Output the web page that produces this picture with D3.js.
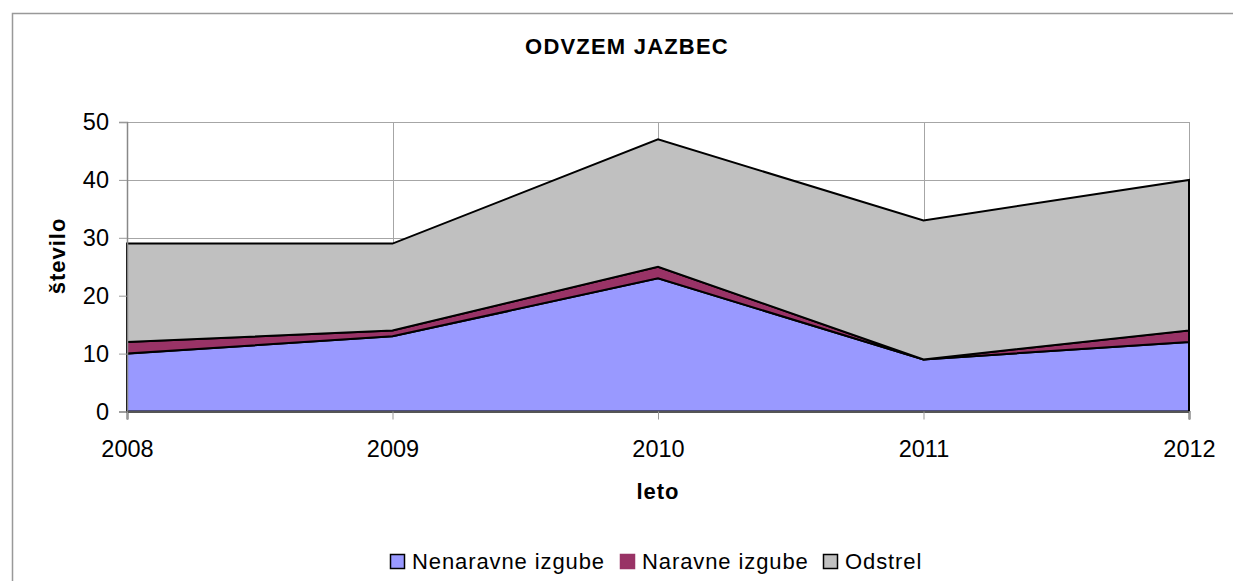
<!DOCTYPE html>
<html>
<head>
<meta charset="utf-8">
<script src="https://cdn.jsdelivr.net/npm/d3@7"></script>
<style>
  body { margin: 0; background: #fff; }
  text { font-family: "Liberation Sans", Arial, sans-serif; fill: #000; }
</style>
</head>
<body>
<svg id="chart" width="1233" height="581"></svg>
<script>
const years = ["2008", "2009", "2010", "2011", "2012"];
const nenaravne = [10, 13, 23, 9, 12];
const naravne = [2, 1, 2, 0, 2];
const odstrel = [17, 15, 22, 24, 26];
const seriesNames = ["Nenaravne izgube", "Naravne izgube", "Odstrel"];
const colors = ["#9999FF", "#993366", "#C0C0C0"];
const yTicks = [0, 10, 20, 30, 40, 50];

const svg = d3.select("#chart");
const margin = { left: 127, right: 1189, top: 122, bottom: 411.5 };

// outer chart border
svg.append("rect")
    .attr("x", 12.5).attr("y", 13.5)
    .attr("width", 1240).attr("height", 600)
    .attr("fill", "none").attr("stroke", "#999").attr("stroke-width", 1.5);

const x = d3.scalePoint().domain(years).range([margin.left, margin.right]);
const y = d3.scaleLinear().domain([0, 50]).range([margin.bottom, margin.top]);

// gridlines
svg.append("g").selectAll("line").data(yTicks).join("line")
    .attr("x1", margin.left).attr("x2", margin.right)
    .attr("y1", d => Math.round(y(d)) + 0.5).attr("y2", d => Math.round(y(d)) + 0.5)
    .attr("stroke", "#a6a6a6");
svg.append("g").selectAll("line").data(years).join("line")
    .attr("x1", d => Math.round(x(d)) + 0.5).attr("x2", d => Math.round(x(d)) + 0.5)
    .attr("y1", margin.top).attr("y2", margin.bottom)
    .attr("stroke", "#a6a6a6");

// stacked areas
const table = years.map((yr, i) => ({ year: yr, a: nenaravne[i], b: naravne[i], c: odstrel[i] }));
const stack = d3.stack().keys(["a", "b", "c"]);
const layers = stack(table);

const area = d3.area()
    .x(d => x(d.data.year))
    .y0(d => y(d[0]))
    .y1(d => y(d[1]));

svg.append("g").selectAll("path").data(layers).join("path")
    .attr("d", area)
    .attr("fill", (d, i) => colors[i])
    .attr("stroke", "#000")
    .attr("stroke-width", 2)
    .attr("stroke-linejoin", "miter");

// axes
const yAxis = svg.append("g")
    .attr("transform", `translate(${margin.left},0)`)
    .call(d3.axisLeft(y).tickValues(yTicks).tickSize(8).tickPadding(10));
yAxis.select(".domain").attr("stroke", "#888").attr("stroke-width", 1.5);
yAxis.selectAll(".tick line").attr("stroke", "#999");
yAxis.selectAll("text").style("font-size", "23.5px");

const xAxis = svg.append("g")
    .attr("transform", `translate(0,${margin.bottom})`)
    .call(d3.axisBottom(x).tickSize(8).tickPadding(21));
xAxis.select(".domain").attr("stroke", "#555").attr("stroke-width", 2);
xAxis.selectAll(".tick line").attr("stroke", "#999");
xAxis.selectAll("text").style("font-size", "23.5px");

// title and axis titles
svg.append("text")
    .attr("x", 627).attr("y", 54)
    .attr("text-anchor", "middle")
    .style("font-size", "22px").style("font-weight", "bold").style("letter-spacing", "1.2px")
    .text("ODVZEM JAZBEC");

svg.append("text")
    .attr("x", (margin.left + margin.right) / 2).attr("y", 499)
    .attr("text-anchor", "middle")
    .style("font-size", "22px").style("font-weight", "bold").style("letter-spacing", "1px")
    .text("leto");

svg.append("text")
    .attr("transform", "translate(65,256) rotate(-90)")
    .attr("text-anchor", "middle")
    .style("font-size", "22px").style("font-weight", "bold").style("letter-spacing", "1px")
    .text("število");

// legend
const legendX = [390, 620, 823];
const legend = svg.append("g").selectAll("g").data(seriesNames).join("g")
    .attr("transform", (d, i) => `translate(${legendX[i]},569)`);
legend.append("rect")
    .attr("x", 0.5).attr("y", -14.5).attr("width", 14).attr("height", 14)
    .attr("fill", (d, i) => colors[i])
    .attr("stroke", (d, i) => i === 1 ? colors[i] : "#000")
    .attr("stroke-width", 1.5);
legend.append("text")
    .attr("x", 22).attr("y", 0)
    .style("font-size", "22px").style("letter-spacing", "0.9px")
    .text(d => d);
</script>
</body>
</html>
